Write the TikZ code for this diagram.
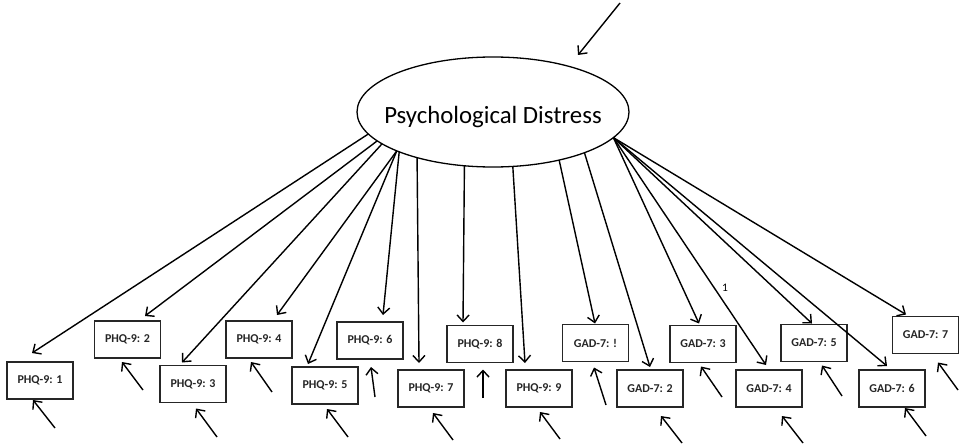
\documentclass[tikz,border=0pt]{standalone}
\usepackage{fontspec}
\setmainfont{Carlito}
\usetikzlibrary{arrows.meta,shapes.geometric}
\begin{document}
\begin{tikzpicture}[x=1pt,y=1pt,
  >={Straight Barb[length=6.5pt,width=12pt]},
  latent/.style={draw, ellipse, line width=1.3pt, minimum width=272pt,
    minimum height=110pt, inner sep=0pt, outer sep=0pt},
  latentlabel/.style={font=\fontsize{24.8}{28}\selectfont, yshift=-5pt},
  indicator/.style={draw=black!85, rectangle, line width=1.9pt, minimum width=66pt,
    minimum height=37pt, inner sep=0pt, outer sep=0pt,
    font=\fontsize{12}{14}\selectfont\bfseries, text=black!85},
  load/.style={->, line width=1.4pt},
  err/.style={->, line width=1.4pt},
  fixlabel/.style={font=\fontsize{11.5}{13}\selectfont}]
\useasboundingbox (0,0) rectangle (960,-444);

% latent factor
\node[latent, label={[latentlabel]center:Psychological Distress}] (ell) at (493,-112) {};

% observed items
\node[indicator] (b1) at (40,-380.5)  {PHQ-9: 1};
\node[indicator] (b2) at (127.5,-339.5) {PHQ-9: 2};
\node[indicator] (b3) at (193,-384)   {PHQ-9: 3};
\node[indicator] (b4) at (259,-339.5) {PHQ-9: 4};
\node[indicator] (b5) at (325,-385.5) {PHQ-9: 5};
\node[indicator] (b6) at (370,-340.5) {PHQ-9: 6};
\node[indicator] (b7) at (431,-388.5) {PHQ-9: 7};
\node[indicator] (b8) at (480,-344)   {PHQ-9: 8};
\node[indicator] (b9) at (539,-388.5) {PHQ-9: 9};
\node[indicator] (g1) at (595.5,-343) {GAD-7: !};
\node[indicator] (g2) at (650,-388.5) {GAD-7: 2};
\node[indicator] (g3) at (703,-344)   {GAD-7: 3};
\node[indicator] (g4) at (769,-388.5) {GAD-7: 4};
\node[indicator] (g5) at (814,-343)   {GAD-7: 5};
\node[indicator] (g6) at (892,-388.5) {GAD-7: 6};
\node[indicator] (g7) at (925.5,-335) {GAD-7: 7};

% factor loadings
\draw[load] (ell.190.9) -- ([shift={(-8pt,9pt)}]b1.north);
\draw[load] (ell.194.6) -- ([shift={(17.5pt,5pt)}]b2.north);
\draw[load] (ell.196.1) -- ([shift={(-11pt,3pt)}]b3.north);
\draw[load] (ell.202.3) -- ([shift={(18pt,6pt)}]b4.north);
\draw[load] (ell.202.7) -- ([shift={(-17pt,3pt)}]b5.north);
\draw[load] (ell.203.1) -- ([shift={(13pt,7pt)}]b6.north);
\draw[load] (ell.211.5) -- ([shift={(-12pt,7pt)}]b7.north);
\draw[load] (ell.242.2) -- ([shift={(-17pt,3pt)}]b8.north);
\draw[load] (ell.290)   -- ([shift={(-14pt,7pt)}]b9.north);
\draw[load] (ell.324.5) -- ([shift={(-0.5pt,1pt)}]g1.north);
\draw[load] (ell.336.4) -- ([shift={(0pt,3pt)}]g2.north);
\draw[load] (ell.348.9) -- ([shift={(-4pt,2pt)}]g3.north);
\draw[load] (ell.348.9) -- ([shift={(-3pt,5pt)}]g4.north)
  node[fixlabel, pos=0.66, right=4pt] {1};
\draw[load] (ell.348.9) -- ([shift={(-2pt,1pt)}]g5.north);
\draw[load] (ell.348.9) -- ([shift={(-5pt,4pt)}]g6.north);
\draw[load] (ell.348.9) -- ([shift={(-19.5pt,2pt)}]g7.north);

% disturbance of the latent factor
\coordinate (dz) at (620,-3);
\draw[err] (dz) -- ([shift={(85pt,57pt)}]ell.center);

% measurement errors
\coordinate (e1) at (55,-428);
\coordinate (e2) at (143,-390);
\coordinate (e3) at (217,-437);
\coordinate (e4) at (272,-392);
\coordinate (e5) at (348,-437);
\coordinate (e6) at (375,-397);
\coordinate (e7) at (453,-440);
\coordinate (e8) at (483,-398);
\coordinate (e9) at (560,-439);
\coordinate (f1) at (606,-405);
\coordinate (f2) at (682,-443);
\coordinate (f3) at (722,-397);
\coordinate (f4) at (803,-443);
\coordinate (f5) at (842,-396);
\coordinate (f6) at (926,-436);
\coordinate (f7) at (958,-390);
\draw[err] (e1) -- ([shift={(-7pt,-1pt)}]b1.south);
\draw[err] (e2) -- ([shift={(-5.5pt,-4pt)}]b2.south);
\draw[err] (e3) -- ([shift={(3pt,-6pt)}]b3.south);
\draw[err] (e4) -- ([shift={(-8pt,-4pt)}]b4.south);
\draw[err] (e5) -- ([shift={(2pt,-5pt)}]b5.south);
\draw[err] (e6) -- ([shift={(1pt,-8pt)}]b6.south);
\draw[err] (e7) -- ([shift={(2pt,-6pt)}]b7.south);
\draw[err] (e8) -- ([shift={(3pt,-7pt)}]b8.south);
\draw[err] (e9) -- ([shift={(1pt,-5pt)}]b9.south);
\draw[err] (f1) -- ([shift={(-1.5pt,-6pt)}]g1.south);
\draw[err] (f2) -- ([shift={(11pt,-9pt)}]g2.south);
\draw[err] (f3) -- ([shift={(-2pt,-4pt)}]g3.south);
\draw[err] (f4) -- ([shift={(13pt,-9pt)}]g4.south);
\draw[err] (f5) -- ([shift={(8pt,-4pt)}]g5.south);
\draw[err] (f6) -- ([shift={(13pt,-1pt)}]g6.south);
\draw[err] (f7) -- ([shift={(12.5pt,-9pt)}]g7.south);
\end{tikzpicture}
\end{document}
